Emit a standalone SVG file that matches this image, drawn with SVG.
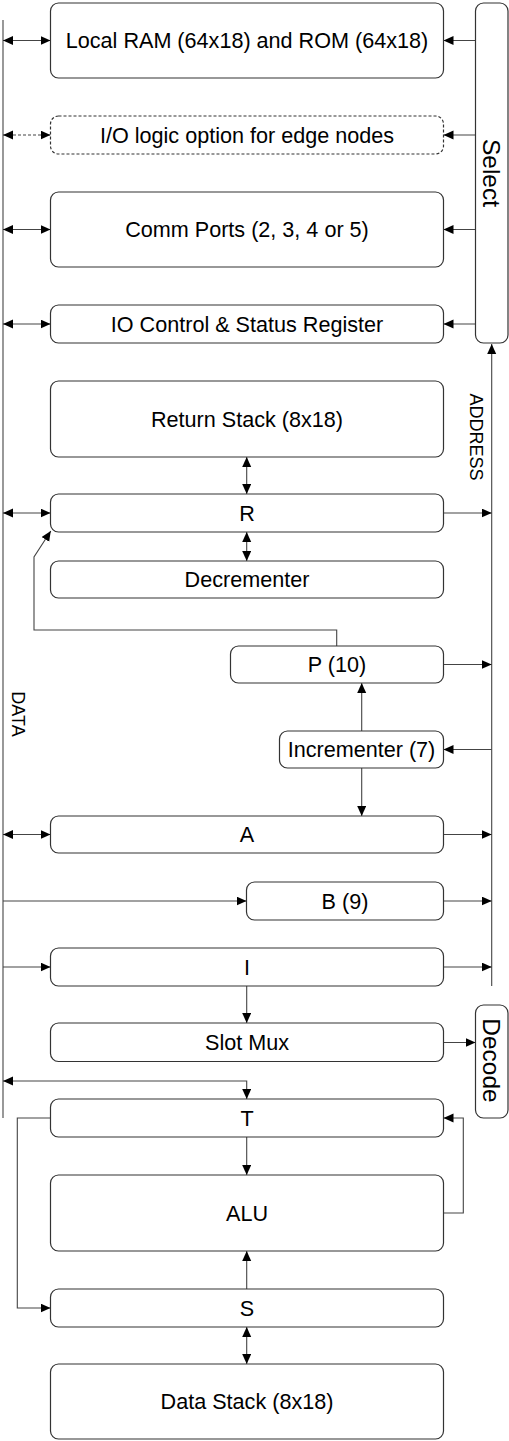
<svg xmlns="http://www.w3.org/2000/svg" width="509" height="1441" viewBox="0 0 509 1441">
<style>
.box{fill:#fff;stroke:#333;stroke-width:1.2}
.dash{stroke-dasharray:3,2}
.lbl{font-family:"Liberation Sans",Arial,sans-serif;font-size:21.6px;fill:#000;text-anchor:middle}
.rot{font-family:"Liberation Sans",Arial,sans-serif;fill:#000;text-anchor:middle}
.ln{fill:none;stroke:#444;stroke-width:1.1}
</style>
<defs>
<marker id="ah" markerUnits="userSpaceOnUse" markerWidth="11" markerHeight="10" refX="10" refY="4.5" orient="auto-start-reverse" viewBox="0 0 11 10">
<path d="M0,0 L10,4.5 L0,9 z" fill="#000"/>
</marker>
</defs>
<rect width="509" height="1441" fill="#fff"/>

<g id="connectors">
<path class="ln" d="M3,20 V1118"/>
<path class="ln" d="M491.7,986 V344" marker-end="url(#ah)"/>
<path class="ln" d="M3,40.5 H50.5" marker-start="url(#ah)" marker-end="url(#ah)"/>
<path class="ln dash" d="M3,135 H50.5" marker-start="url(#ah)" marker-end="url(#ah)"/>
<path class="ln" d="M3,229.5 H50.5" marker-start="url(#ah)" marker-end="url(#ah)"/>
<path class="ln" d="M3,324 H50.5" marker-start="url(#ah)" marker-end="url(#ah)"/>
<path class="ln" d="M3,513 H50.5" marker-start="url(#ah)" marker-end="url(#ah)"/>
<path class="ln" d="M3,834.5 H50.5" marker-start="url(#ah)" marker-end="url(#ah)"/>
<path class="ln" d="M3,901 H246.5" marker-end="url(#ah)"/>
<path class="ln" d="M3,967 H50.5" marker-end="url(#ah)"/>
<path class="ln" d="M475.5,40.5 H443.5" marker-end="url(#ah)"/>
<path class="ln" d="M475.5,135 H443.5" marker-end="url(#ah)"/>
<path class="ln" d="M475.5,229.5 H443.5" marker-end="url(#ah)"/>
<path class="ln" d="M475.5,324 H443.5" marker-end="url(#ah)"/>
<path class="ln" d="M443.5,513 H491.7" marker-end="url(#ah)"/>
<path class="ln" d="M443.5,664.5 H491.7" marker-end="url(#ah)"/>
<path class="ln" d="M443.5,834.5 H491.7" marker-end="url(#ah)"/>
<path class="ln" d="M443.5,901 H491.7" marker-end="url(#ah)"/>
<path class="ln" d="M443.5,967 H491.7" marker-end="url(#ah)"/>
<path class="ln" d="M491.7,749.5 H443.5" marker-end="url(#ah)"/>
<path class="ln" d="M246.7,457 V494" marker-start="url(#ah)" marker-end="url(#ah)"/>
<path class="ln" d="M246.7,532 V561" marker-start="url(#ah)" marker-end="url(#ah)"/>
<path class="ln" d="M336.7,646 V630 H34 V557 L50.8,531" marker-end="url(#ah)"/>
<path class="ln" d="M361.7,731 V683" marker-end="url(#ah)"/>
<path class="ln" d="M361.7,768 V816" marker-end="url(#ah)"/>
<path class="ln" d="M246.7,986 V1023" marker-end="url(#ah)"/>
<path class="ln" d="M443.5,1042.5 H475.5" marker-end="url(#ah)"/>
<path class="ln" d="M3,1081 H246.7 V1099" marker-start="url(#ah)" marker-end="url(#ah)"/>
<path class="ln" d="M246.7,1137 V1175" marker-end="url(#ah)"/>
<path class="ln" d="M246.7,1289 V1251" marker-end="url(#ah)"/>
<path class="ln" d="M246.7,1327 V1364" marker-start="url(#ah)" marker-end="url(#ah)"/>
<path class="ln" d="M50.5,1118 H17.3 V1308 H50.5" marker-end="url(#ah)"/>
<path class="ln" d="M443.5,1213 H463.3 V1118 H443.5" marker-end="url(#ah)"/>
<text class="rot" font-size="18" transform="translate(476,437) rotate(90)" x="0" y="6.4">ADDRESS</text>
<text class="rot" font-size="18" transform="translate(18.3,714) rotate(90)" x="0" y="6.4">DATA</text>
</g>

<g id="ram"><rect class="box" x="50.5" y="3" width="393" height="75" rx="8"/><text class="lbl" x="247" y="48.2">Local RAM (64x18) and ROM (64x18)</text></g>
<g id="io"><rect class="box dash" x="50.5" y="116" width="393" height="38" rx="8"/><text class="lbl" x="247" y="142.7">I/O logic option for edge nodes</text></g>
<g id="comm"><rect class="box" x="50.5" y="192" width="393" height="75" rx="8"/><text class="lbl" x="247" y="237.2">Comm Ports (2, 3, 4 or 5)</text></g>
<g id="iocsr"><rect class="box" x="50.5" y="305" width="393" height="38" rx="8"/><text class="lbl" x="247" y="331.7">IO Control &amp; Status Register</text></g>
<g id="select"><rect class="box" x="475.5" y="3" width="32.5" height="340" rx="8"/><text class="rot" font-size="24.5" transform="translate(491.7,173) rotate(90)" x="0" y="8.8">Select</text></g>
<g id="rstack"><rect class="box" x="50.5" y="381" width="393" height="76" rx="8"/><text class="lbl" x="247" y="426.7">Return Stack (8x18)</text></g>
<g id="r"><rect class="box" x="50.5" y="494" width="393" height="38" rx="8"/><text class="lbl" x="247" y="520.7">R</text></g>
<g id="dec"><rect class="box" x="50.5" y="561" width="393" height="37" rx="8"/><text class="lbl" x="247" y="587.2">Decrementer</text></g>
<g id="p"><rect class="box" x="230.5" y="646" width="213" height="37" rx="8"/><text class="lbl" x="337" y="672.2">P (10)</text></g>
<g id="inc"><rect class="box" x="279.5" y="731" width="164" height="37" rx="8"/><text class="lbl" x="361.5" y="757.2">Incrementer (7)</text></g>
<g id="a"><rect class="box" x="50.5" y="816" width="393" height="37" rx="8"/><text class="lbl" x="247" y="842.2">A</text></g>
<g id="b"><rect class="box" x="246.5" y="882" width="197" height="38" rx="8"/><text class="lbl" x="345" y="908.7">B (9)</text></g>
<g id="i"><rect class="box" x="50.5" y="948" width="393" height="38" rx="8"/><text class="lbl" x="247" y="974.7">I</text></g>
<g id="slotmux"><rect class="box" x="50.5" y="1023" width="393" height="38.5" rx="8"/><text class="lbl" x="247" y="1050">Slot Mux</text></g>
<g id="decode"><rect class="box" x="475.5" y="1005" width="32.5" height="113" rx="8"/><text class="rot" font-size="24.5" transform="translate(491.7,1060.5) rotate(90)" x="0" y="8.8">Decode</text></g>
<g id="t"><rect class="box" x="50.5" y="1099" width="393" height="38" rx="8"/><text class="lbl" x="247" y="1125.7">T</text></g>
<g id="alu"><rect class="box" x="50.5" y="1175" width="393" height="76" rx="8"/><text class="lbl" x="247" y="1220.7">ALU</text></g>
<g id="s"><rect class="box" x="50.5" y="1289" width="393" height="38" rx="8"/><text class="lbl" x="247" y="1315.7">S</text></g>
<g id="dstack"><rect class="box" x="50.5" y="1364" width="393" height="75" rx="8"/><text class="lbl" x="247" y="1409.2">Data Stack (8x18)</text></g>
</svg>
